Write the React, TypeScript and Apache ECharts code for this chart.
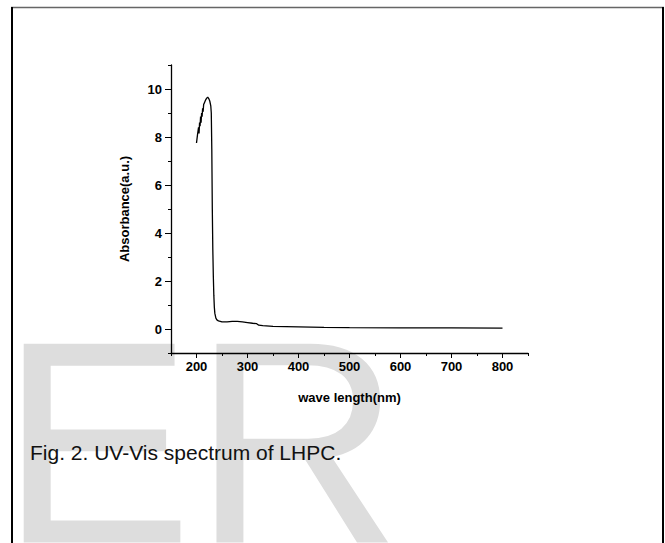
import React, { useEffect, useRef } from "react";
import * as echarts from "echarts";

const wavelengths = [
  200, 202, 204, 205, 206, 207, 208, 209, 210, 211, 212, 213, 214, 216, 218, 220, 222, 224, 226, 228, 229,
  230, 231, 232, 233, 234, 235, 236, 238, 240, 243, 250, 260, 270, 280, 290, 300, 310, 318, 322,
  330, 350, 400, 450, 500, 600, 700, 800,
];
const absorbance = [
  7.75, 8.1, 8.4, 8.15, 8.6, 8.45, 8.85, 8.6, 9.0, 8.85, 9.2, 9.05, 9.35, 9.45, 9.55, 9.62, 9.66, 9.6, 9.5, 9.3, 9.0,
  7.5, 5.0, 3.3, 2.2, 1.4, 0.9, 0.65, 0.45, 0.38, 0.34, 0.3, 0.3, 0.32, 0.32, 0.3, 0.27, 0.24, 0.22, 0.16,
  0.14, 0.11, 0.09, 0.07, 0.06, 0.05, 0.045, 0.04,
];
const xMajorTicks = [200, 300, 400, 500, 600, 700, 800];
const xMinorTicks = [150, 250, 350, 450, 550, 650, 750, 850];
const yMajorTicks = [0, 2, 4, 6, 8, 10];
const yMinorTicks = [-1, 1, 3, 5, 7, 9, 11];

const xName = "wave length(nm)";
const yName = "Absorbance(a.u.)";
const caption = "Fig. 2. UV-Vis spectrum of LHPC.";
const watermark = "ER";

const FONT = "'Liberation Sans', Arial, sans-serif";

export default function App() {
  const ref = useRef<HTMLDivElement>(null);
  useEffect(() => {
    if (!ref.current) return;
    const chart = echarts.init(ref.current, null, { renderer: "svg" });
    const data = wavelengths.map((w, i) => [w, absorbance[i]]);
    const axisLine = { show: true, onZero: false, lineStyle: { color: "#000", width: 1.3 } };
    const labelStyle = { color: "#000", fontFamily: FONT, fontWeight: "bold" as const, fontSize: 13 };
    chart.setOption({
      animation: false,
      backgroundColor: "#fff",
      grid: { left: 171, top: 65, width: 357, height: 288, containLabel: false },
      xAxis: [
        {
          type: "value",
          min: 150,
          max: 850,
          position: "bottom",
          axisLine,
          splitLine: { show: false },
          axisTick: { show: true, customValues: xMajorTicks, length: 5, lineStyle: { color: "#000", width: 1 } },
          axisLabel: { show: true, customValues: xMajorTicks, margin: 7, ...labelStyle },
          name: xName,
          nameLocation: "middle",
          nameGap: 38,
          nameTextStyle: { ...labelStyle },
        },
        {
          type: "value",
          min: 150,
          max: 850,
          position: "bottom",
          offset: 0,
          axisLine: { show: false, onZero: false },
          splitLine: { show: false },
          axisTick: { show: true, customValues: xMinorTicks, length: 3, lineStyle: { color: "#000", width: 1 } },
          axisLabel: { show: false },
        },
      ],
      yAxis: [
        {
          type: "value",
          min: -1,
          max: 11,
          position: "left",
          axisLine,
          splitLine: { show: false },
          axisTick: { show: true, customValues: yMajorTicks, length: 6, lineStyle: { color: "#000", width: 1 } },
          axisLabel: { show: true, customValues: yMajorTicks, margin: 9, ...labelStyle },
          name: yName,
          nameLocation: "middle",
          nameGap: 40,
          nameTextStyle: { ...labelStyle },
        },
        {
          type: "value",
          min: -1,
          max: 11,
          position: "left",
          offset: 0,
          axisLine: { show: false, onZero: false },
          splitLine: { show: false },
          axisTick: { show: true, customValues: yMinorTicks, length: 3, lineStyle: { color: "#000", width: 1 } },
          axisLabel: { show: false },
        },
      ],
      series: [
        {
          type: "line",
          xAxisIndex: 0,
          yAxisIndex: 0,
          data,
          showSymbol: false,
          symbol: "none",
          lineStyle: { color: "#000", width: 1.3 },
          z: 5,
        },
      ],
      graphic: [
        {
          type: "text",
          z: -10,
          x: 0,
          y: 442,
          style: {
            text: watermark,
            fontFamily: FONT,
            fontSize: 289,
            fill: "#dddddd",
            verticalAlign: "middle",
            align: "left",
          },
        },
        {
          type: "text",
          z: 10,
          x: 30,
          y: 452,
          style: {
            text: caption,
            fontFamily: FONT,
            fontSize: 21,
            fill: "#111",
            verticalAlign: "middle",
            align: "left",
          },
        },
        {
          type: "line",
          z: 10,
          shape: { x1: 11, y1: 7.5, x2: 664, y2: 7.5 },
          style: { stroke: "#666", lineWidth: 1.5 },
        },
        {
          type: "line",
          z: 10,
          shape: { x1: 12, y1: 7, x2: 12, y2: 543 },
          style: { stroke: "#000", lineWidth: 2 },
        },
        {
          type: "line",
          z: 10,
          shape: { x1: 663, y1: 7, x2: 663, y2: 543 },
          style: { stroke: "#000", lineWidth: 2 },
        },
      ],
    });
    return () => chart.dispose();
  }, []);
  return (
    <div
      ref={ref}
      style={{ position: "fixed", left: 0, top: 0, width: 665, height: 543, background: "#fff" }}
    />
  );
}
